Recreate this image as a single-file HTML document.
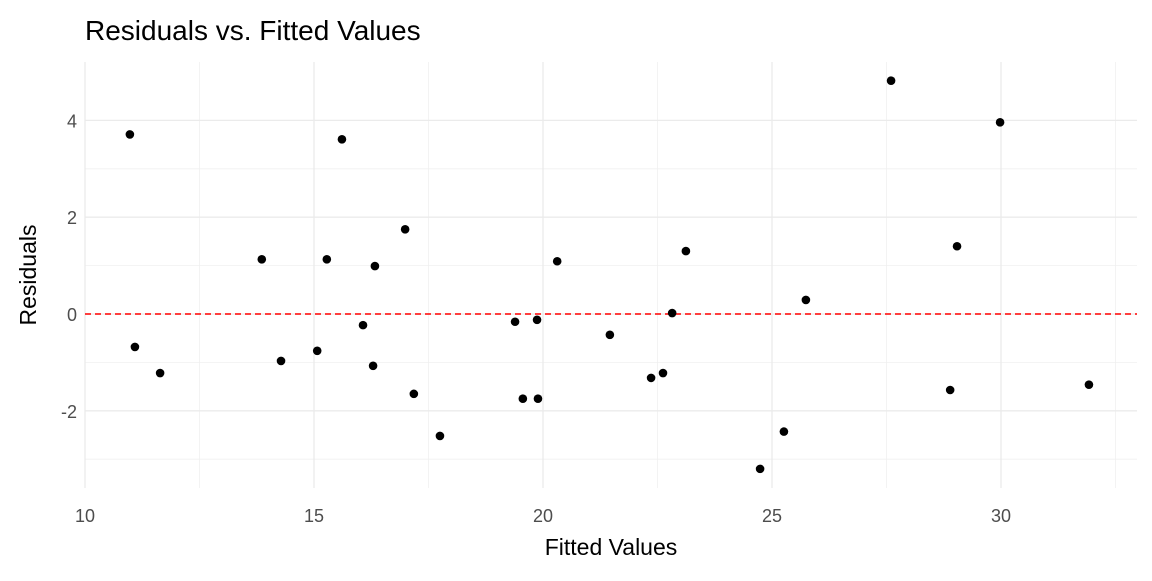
<!DOCTYPE html>
<html><head><meta charset="utf-8"><style>
body{margin:0;background:#fff;font-family:"Liberation Sans",sans-serif}
</style></head><body>
<svg width="1152" height="576" xmlns="http://www.w3.org/2000/svg">
<g id="grid"></g>
<line id="zero" stroke="#ff0000" stroke-width="1.6" stroke-dasharray="6,4"/>
<g id="pts"></g>
<g id="ticks" font-size="18" fill="#4d4d4d"></g>
<text x="85" y="40" font-size="28" fill="#000">Residuals vs. Fitted Values</text>
<text x="611" y="555" font-size="23" text-anchor="middle" fill="#000">Fitted Values</text>
<text transform="translate(36,275) rotate(-90)" font-size="23" text-anchor="middle" fill="#000">Residuals</text>
</svg>
<script>
const fitted=[10.98,11.09,11.64,13.86,14.28,15.07,15.28,15.61,16.07,16.29,16.33,16.99,17.18,17.75,19.39,19.56,19.87,19.89,20.31,21.46,22.36,22.62,22.82,23.12,24.74,25.26,25.74,27.60,28.89,29.04,29.98,31.92];
const residuals=[3.71,-0.68,-1.22,1.13,-0.97,-0.76,1.13,3.61,-0.23,-1.07,0.99,1.75,-1.65,-2.52,-0.16,-1.75,-0.12,-1.75,1.09,-0.43,-1.32,-1.22,0.02,1.30,-3.20,-2.43,0.29,4.82,-1.57,1.40,3.96,-1.46];
const xTicks=[10,15,20,25,30];
const yTicks=[-2,0,2,4];
const xMinor=[12.5,17.5,22.5,27.5,32.5];
const yMinor=[-3,-1,1,3];
const X=v=>85+(v-10)*45.8, Y=v=>314-v*48.4;
const L=85,R=1137,T=62,B=488,ns="http://www.w3.org/2000/svg";
const g=document.getElementById('grid'),tk=document.getElementById('ticks'),p=document.getElementById('pts');
function line(x1,y1,x2,y2,w,c){const l=document.createElementNS(ns,'line');l.setAttribute('x1',x1);l.setAttribute('y1',y1);l.setAttribute('x2',x2);l.setAttribute('y2',y2);l.setAttribute('stroke',c);l.setAttribute('stroke-width',w);g.appendChild(l);return l;}
xMinor.forEach(v=>{const l=line(X(v),T,X(v),B,0.8,'#f0f0f0');

});
yMinor.forEach(v=>{const l=line(L,Y(v),R,Y(v),0.8,'#f0f0f0');

});
xTicks.forEach(v=>{const l=line(X(v),T,X(v),B,1.3,'#ebebeb');


const t=document.createElementNS(ns,'text');t.setAttribute('x',X(v));t.setAttribute('y',522);t.setAttribute('text-anchor','middle');t.textContent=v;


tk.appendChild(t);});
yTicks.forEach(v=>{const l=line(L,Y(v),R,Y(v),1.3,'#ebebeb');


const t=document.createElementNS(ns,'text');t.setAttribute('x',77);t.setAttribute('y',Y(v)+7);t.setAttribute('text-anchor','end');t.textContent=v;


tk.appendChild(t);});
const z=document.getElementById('zero');z.setAttribute('x1',L);z.setAttribute('x2',R);z.setAttribute('y1',Y(0));z.setAttribute('y2',Y(0));
fitted.forEach((f,i)=>{const c=document.createElementNS(ns,'circle');c.setAttribute('cx',X(f));c.setAttribute('cy',Y(residuals[i]));c.setAttribute('r',4.3);c.setAttribute('fill','#000');


p.appendChild(c);});
</script>
</body></html>
